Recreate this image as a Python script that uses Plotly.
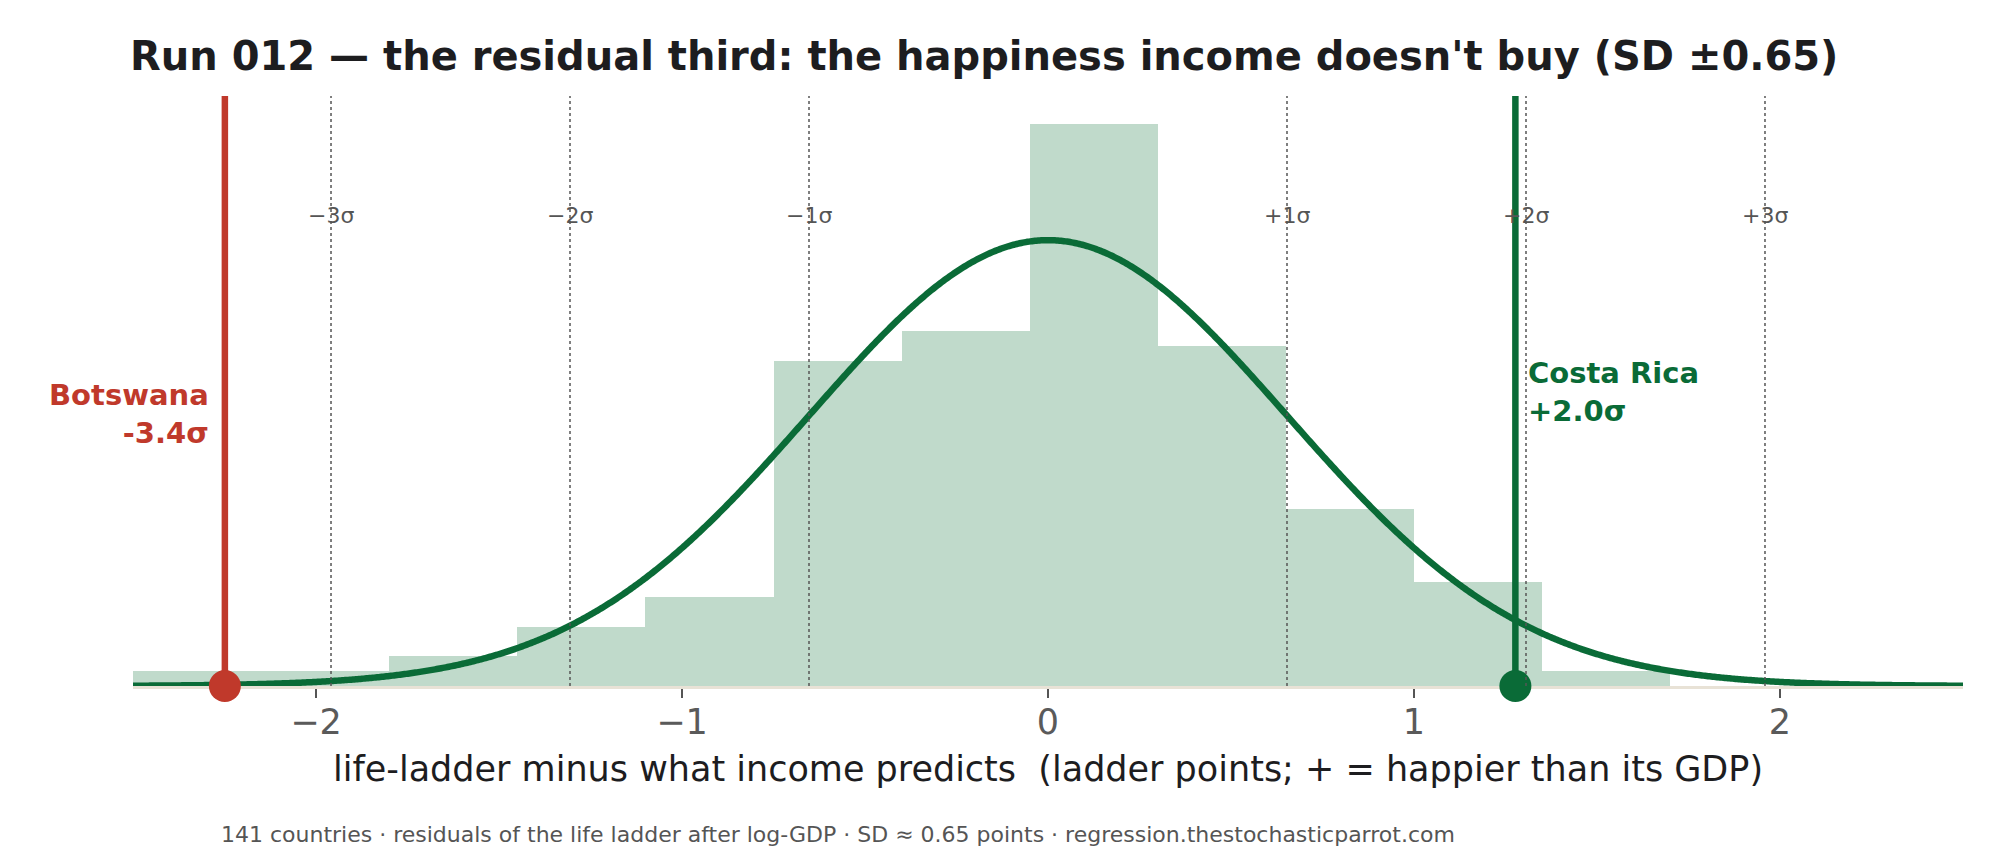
#!/usr/bin/env python3
"""Residual distribution of life ladder after log-GDP, with outlier countries marked."""

import numpy as np
import plotly.graph_objects as go

# data
BIN_START = -2.5
BIN_WIDTH = 0.35
BIN_COUNTS = [1, 1, 2, 4, 6, 22, 24, 38, 23, 12, 7, 1]
N_COUNTRIES = 141
RESID_MEAN = 0.0
RESID_SD = 0.653

SIGMA_STEPS = [-3, -2, -1, 1, 2, 3]
SIGMA_LABELS = ["\u22123\u03c3", "\u22122\u03c3", "\u22121\u03c3", "+1\u03c3", "+2\u03c3", "+3\u03c3"]

OUTLIER_NAMES = ["Botswana", "Costa Rica"]
OUTLIER_RESID = [-2.249, 1.277]
OUTLIER_Z = ["-3.4\u03c3", "+2.0\u03c3"]

X_TICKS = [-2, -1, 0, 1, 2]
X_RANGE = [-2.5, 2.5]

RED = "#c0392b"
GREEN = "#0a6b37"
BAR_FILL = "#c0dacb"
FONT = "DejaVu Sans"


def main() -> None:
    counts = np.array(BIN_COUNTS, dtype=float)
    edges = BIN_START + BIN_WIDTH * np.arange(len(counts) + 1)
    centers = (edges[:-1] + edges[1:]) / 2
    density = counts / (N_COUNTRIES * BIN_WIDTH)
    y_max = density.max() * 1.05

    xs = np.linspace(X_RANGE[0], X_RANGE[1], 1200)
    pdf = np.exp(-0.5 * ((xs - RESID_MEAN) / RESID_SD) ** 2) / (RESID_SD * np.sqrt(2 * np.pi))

    fig = go.Figure()
    fig.add_trace(go.Bar(x=centers, y=density, width=BIN_WIDTH, marker=dict(color=BAR_FILL, line=dict(width=0)),
                         hoverinfo="skip"))

    # sigma guides
    for step, label in zip(SIGMA_STEPS, SIGMA_LABELS):
        xv = RESID_MEAN + step * RESID_SD
        fig.add_shape(type="line", x0=xv, x1=xv, y0=0, y1=1, xref="x", yref="y domain",
                      line=dict(color="#555555", width=1.5, dash="dot"), layer="above")
        fig.add_annotation(x=xv, y=0.797, xref="x", yref="paper", yanchor="middle", text=label,
                           showarrow=False, font=dict(family=FONT, size=22, color="#555555"))

    fig.add_trace(go.Scatter(x=xs, y=pdf, mode="lines", line=dict(color=GREEN, width=6.5, simplify=False),
                             hoverinfo="skip"))

    colors = [RED, GREEN]
    label_y = [0.461, 0.498]
    for name, xv, z, col, ly in zip(OUTLIER_NAMES, OUTLIER_RESID, OUTLIER_Z, colors, label_y):
        fig.add_trace(go.Scatter(x=[xv, xv], y=[0, y_max], mode="lines", line=dict(color=col, width=6.5),
                                 cliponaxis=False, hoverinfo="skip"))
        fig.add_trace(go.Scatter(x=[xv], y=[0], mode="markers",
                                 marker=dict(color=col, size=32, line=dict(width=0)),
                                 cliponaxis=False, hoverinfo="skip"))
        left = xv < 0
        fig.add_annotation(x=xv, y=ly, xref="x", yref="paper", yanchor="middle", text=f"<b>{name}<br>{z}</b>",
                           showarrow=False, xanchor="right" if left else "left",
                           align="right" if left else "left", xshift=-14 if left else 11,
                           font=dict(family=FONT, size=29, color=col))

    fig.add_annotation(x=-0.003, y=1.068, xref="paper", yref="paper", xanchor="left", yanchor="middle",
                       text="<b>Run 012 \u2014 the residual third: the happiness income doesn't buy (SD \u00b10.65)</b>",
                       showarrow=False, font=dict(family=FONT, size=40, color="#1d1d1f"))
    fig.add_annotation(x=0.5, y=-0.1407, xref="paper", yref="paper", yanchor="middle",
                       text="life-ladder minus what income predicts  (ladder points; + = happier than its GDP)",
                       showarrow=False, font=dict(family=FONT, size=35, color="#1d1d1f"))
    fig.add_annotation(x=(219 - 133) / (1963 - 133), y=-0.2525, xref="paper", yref="paper",
                       xanchor="left", yanchor="middle",
                       text="141 countries \u00b7 residuals of the life ladder after log-GDP \u00b7 SD \u2248 0.65 points"
                            " \u00b7 regression.thestochasticparrot.com",
                       showarrow=False, font=dict(family=FONT, size=22, color="#555555"))

    fig.update_xaxes(range=X_RANGE, tickvals=X_TICKS, ticks="outside", ticklen=9, tickwidth=1.5,
                     tickcolor="#555555", showline=True, linecolor="#e8e2d6", linewidth=3,
                     ticklabelstandoff=-6, layer="below traces",
                     showgrid=False, zeroline=False, tickfont=dict(family=FONT, size=35, color="#5a5a5a"))
    fig.update_yaxes(range=[0, y_max], visible=False, showgrid=False, zeroline=False)
    # page body adds an 8px offset, margins compensate for it
    fig.update_layout(
        width=2000,
        height=860,
        showlegend=False,
        bargap=0,
        plot_bgcolor="white",
        paper_bgcolor="white",
        margin=dict(l=125, r=45, t=88, b=182),
        font=dict(family=FONT),
    )
    fig.write_html("out.html")


if __name__ == "__main__":
    main()
